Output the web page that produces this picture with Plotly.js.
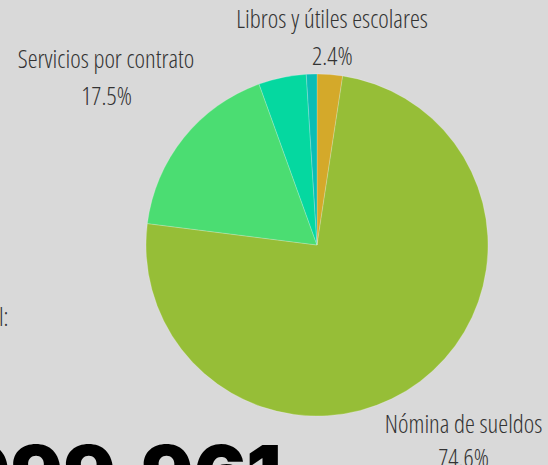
<!DOCTYPE html>
<html>
<head>
<meta charset="utf-8">
<script src="https://cdn.plot.ly/plotly-3.0.1.min.js"></script>
<style>
html,body{margin:0;padding:0;background:#d9d9d9;overflow:hidden}
#chart{width:548px;height:465px}
.main-svg text{font-stretch:83%}
</style>
</head>
<body>
<div id="chart"></div>
<script>
const categories = ["Libros y útiles escolares", "Nómina de sueldos", "Servicios por contrato", "Otros gastos", "Mantenimiento"];
const shares = [2.4, 74.6, 17.5, 4.5, 1.0];
const shownLabels = [true, true, true, false, false];
const sliceColors = ["#d4a92a", "#96be37", "#4bdd72", "#05d8a0", "#0bbdb5"];
const totalLabel = "Total:";
const totalValue = "$1,999,961";

// label anchor positions in pixels (layout only)
const labelPos = [
  {x: 332, y1: 18, y2: 55},
  {x: 463, y1: 423, y2: 457},
  {x: 106, y1: 58, y2: 95},
  null, null
];

const W = 548, H = 465;
const thinFont = {family: "Open Sans, Roboto, sans-serif", size: 25, color: "#333333", weight: 300};

const trace = {
  type: "pie",
  labels: categories,
  values: shares,
  textinfo: "none",
  sort: false,
  direction: "clockwise",
  rotation: 0,
  marker: {colors: sliceColors, line: {width: 0.6, color: "rgba(255,255,255,0.35)"}},
  hoverinfo: "label+percent",
  domain: {x: [146/W, 488/W], y: [1 - 416/H, 1 - 74/H]},
  showlegend: false
};

const annotations = [];
categories.forEach((c, i) => {
  if (!shownLabels[i] || !labelPos[i]) return;
  const p = labelPos[i];
  annotations.push({text: c, xref: "paper", yref: "paper", x: p.x / W, y: 1 - p.y1 / H,
    xanchor: "center", yanchor: "middle", showarrow: false, font: thinFont});
  annotations.push({text: shares[i].toFixed(1) + "%", xref: "paper", yref: "paper", x: p.x / W, y: 1 - p.y2 / H,
    xanchor: "center", yanchor: "middle", showarrow: false, font: thinFont});
});
annotations.push({text: totalLabel, xref: "paper", yref: "paper", x: 19/W, y: 1 - 316/H, xanchor: "right", yanchor: "middle", showarrow: false, font: thinFont});
annotations.push({text: totalValue, xref: "paper", yref: "paper", x: 284/W, y: 1 - 424/H, xanchor: "right", yanchor: "top", showarrow: false,
  font: {family: "Inter, Liberation Sans, sans-serif", size: 78, color: "#000000", weight: 900}});

const layout = {
  width: W, height: H,
  margin: {l: 0, r: 0, t: 0, b: 0},
  paper_bgcolor: "#d9d9d9",
  plot_bgcolor: "#d9d9d9",
  showlegend: false,
  annotations: annotations
};

Plotly.newPlot("chart", [trace], layout, {displayModeBar: false, staticPlot: true});
</script>
</body>
</html>
